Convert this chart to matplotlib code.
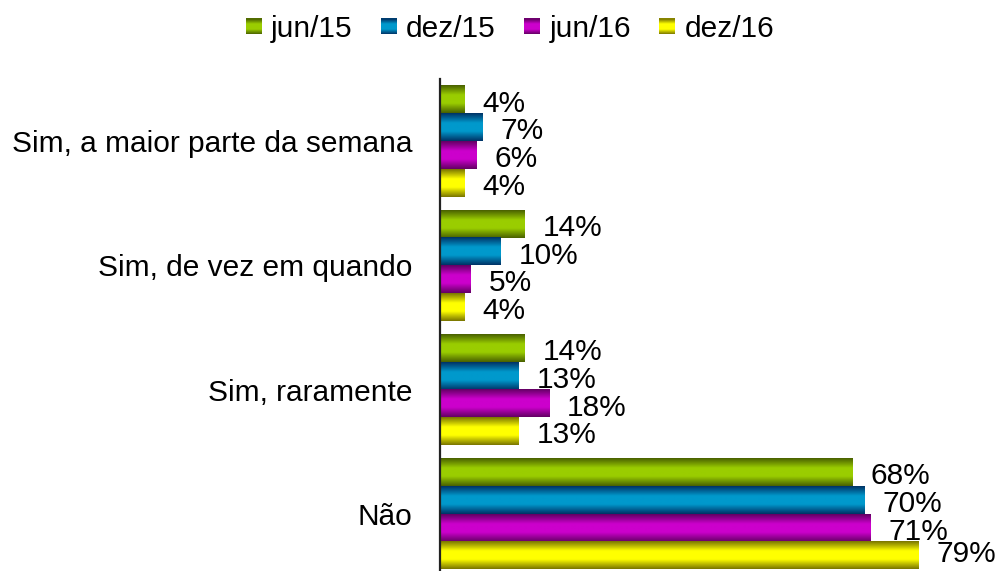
import numpy as np
import matplotlib
matplotlib.use("Agg")
import matplotlib.pyplot as plt
from matplotlib.colors import LinearSegmentedColormap
from matplotlib.patches import Rectangle
from matplotlib.legend_handler import HandlerBase

plt.rcParams['font.family'] = ['Liberation Sans', 'DejaVu Sans']

categories = ["Sim, a maior parte da semana", "Sim, de vez em quando", "Sim, raramente", "Não"]
series = ["jun/15", "dez/15", "jun/16", "dez/16"]
values = {
    "jun/15": [4, 14, 14, 68],
    "dez/15": [7, 10, 13, 70],
    "jun/16": [6, 5, 18, 71],
    "dez/16": [4, 4, 13, 79],
}
# (edge colour, centre colour) for the cylinder-like shading
shades = {
    "jun/15": ("#4a6100", "#9acd00"),
    "dez/15": ("#003366", "#0099cc"),
    "jun/16": ("#640064", "#cc00cc"),
    "dez/16": ("#7a7600", "#ffff00"),
}
FS = 21.5


def shade_map(edge, centre):
    return LinearSegmentedColormap.from_list(
        "s", [(0, edge), (0.35, centre), (0.65, centre), (1, edge)])


fig = plt.figure(figsize=(10, 5.71), dpi=100)
ax = fig.add_axes([0.44, -5 / 571, 0.485, 497 / 571])

bar_h = 0.2235
grad = np.linspace(0, 1, 64).reshape(-1, 1)
n_cat = len(categories)
for i, s in enumerate(series):
    cmap = shade_map(*shades[s])
    for c, v in enumerate(values[s]):
        y = c + (i - 1.5) * bar_h
        ax.imshow(grad, cmap=cmap, aspect='auto', interpolation='bilinear',
                  extent=(0, v, y + bar_h / 2, y - bar_h / 2), zorder=2)
        # the very last label sits against the lower edge, so keep it level
        dy = 1 if (c == n_cat - 1 and i == len(series) - 1) else -3
        ax.annotate(f"{v}%", xy=(v, y), xytext=(13, dy), textcoords='offset points',
                    ha='left', va='center', fontsize=FS, color='black', zorder=3,
                    annotation_clip=False)

ax.set_xlim(0, 80)
ax.set_ylim(3.5, -0.5)
ax.set_yticks(range(n_cat))
ax.set_yticklabels(categories, fontsize=FS)
ax.tick_params(axis='y', length=0, pad=20)
ax.set_xticks([])
for sp in ["top", "right", "bottom"]:
    ax.spines[sp].set_visible(False)
ax.spines["left"].set_linewidth(1.6)
ax.spines["left"].set_color("#222222")
ax.set_zorder(1)


class ShadedSquare(HandlerBase):
    def __init__(self, edge, centre):
        super().__init__()
        self.cmap = shade_map(edge, centre)

    def create_artists(self, legend, orig_handle, xdescent, ydescent,
                       width, height, fontsize, trans):
        side = min(width, height)
        x0 = -xdescent + (width - side) / 2
        y0 = -ydescent + (height - side) / 2
        n = 14
        arts = []
        for k in range(n):
            col = self.cmap(1 - (k + 0.5) / n)
            arts.append(Rectangle((x0, y0 + side * k / n), side, side / n + 0.3,
                                  facecolor=col, edgecolor='none', transform=trans))
        return arts


handles = [Rectangle((0, 0), 1, 1) for _ in series]
handler_map = {h: ShadedSquare(*shades[s]) for h, s in zip(handles, series)}
fig.legend(handles, series, handler_map=handler_map, loc='center',
           bbox_to_anchor=(0.51, 1 - 29 / 571), ncol=4, frameon=False, fontsize=FS,
           handlelength=0.54, handleheight=0.54, handletextpad=0.3,
           columnspacing=0.95, borderpad=0, borderaxespad=0)

fig.savefig("out.png", dpi=100)
